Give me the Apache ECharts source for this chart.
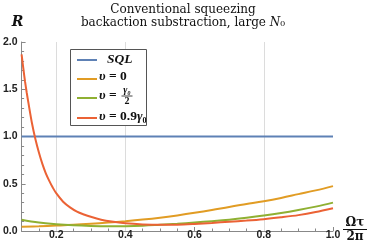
<!DOCTYPE html>
<html>
<head>
<meta charset="utf-8">
<script src="https://cdn.jsdelivr.net/npm/echarts@6/dist/echarts.min.js"></script>
<style>html,body{margin:0;padding:0;background:#fff}#c{width:374px;height:250px}</style>
</head>
<body>
<div id="c"></div>
<script>
// ---- data ----
const xsSmooth = [0.1,0.15,0.2,0.25,0.3,0.35,0.4,0.45,0.5,0.55,0.6,0.65,0.7,0.75,0.8,0.85,0.9,0.95,1.0];
const orangeVals = [0.045,0.05,0.057,0.065,0.076,0.089,0.104,0.121,0.141,0.165,0.192,0.222,0.255,0.285,0.315,0.35,0.39,0.43,0.475];
const greenVals  = [0.12,0.09,0.072,0.06,0.053,0.05,0.051,0.056,0.066,0.077,0.09,0.104,0.12,0.14,0.163,0.19,0.222,0.258,0.30];
const xsRed = [0.1,0.105,0.11,0.115,0.12,0.13,0.14,0.15,0.16,0.17,0.18,0.19,0.2,0.22,0.24,0.26,0.28,0.3,0.33,0.36,0.4,0.45,0.5,0.55,0.6,0.65,0.7,0.75,0.8,0.85,0.9,0.95,1.0];
const redVals = [1.87,1.72,1.58,1.46,1.35,1.14,0.97,0.83,0.71,0.61,0.53,0.46,0.40,0.31,0.25,0.205,0.175,0.15,0.12,0.10,0.082,0.07,0.065,0.067,0.075,0.085,0.098,0.11,0.125,0.145,0.168,0.2,0.24];
const xsSQL = [0.1,1.0];
const sqlVals = [1,1];
const xTickLabels = [0.2,0.4,0.6,0.8,1.0];
const xMinorTicks = [0.15,0.25,0.3,0.35,0.45,0.5,0.55,0.65,0.7,0.75,0.85,0.9,0.95];
const xGridLines = [0.2,0.4,0.8];
const legendNames = ['SQL','υ = 0','υ = γ0/2','υ = 0.9γ0'];
const colors = ['#5E81B5','#E19C24','#8FB032','#EB6235'];

const pair = (xs, ys) => xs.map((x,i)=>[x, ys[i]]);
const axisGray = '#888';
const tickFont = {fontFamily:'Liberation Sans', fontWeight:'bold', fontSize:10.5, color:'#222'};
const serif = 'DejaVu Serif';
const lserif = 'Liberation Serif';
const lfs = 13.5;

const chart = echarts.init(document.getElementById('c'));
const lx0 = 77, lx1 = 97;
const legendLineY = [60, 79, 98, 118];
const uRich = {u:{fontStyle:'italic', fontWeight:'bold', fontFamily:lserif, fontSize:lfs, fill:'#111'}};

chart.setOption({
  animation:false,
  grid:{left:19, right:41, top:42, bottom:19, containLabel:false},
  xAxis:[{
    type:'value', min:0.1, max:1.0,
    axisLine:{show:true, onZero:false, lineStyle:{color:axisGray, width:1}},
    axisTick:{show:true, inside:true, length:4, lineStyle:{color:axisGray}, customValues:xTickLabels},
    axisLabel:Object.assign({margin:-1, customValues:xTickLabels, formatter:v=>v.toFixed(1)}, tickFont),
    splitLine:{show:false}
  },{
    type:'value', min:0.1, max:1.0, position:'bottom',
    axisLine:{show:false},
    axisTick:{show:true, inside:true, length:2.5, lineStyle:{color:axisGray}, customValues:xMinorTicks},
    axisLabel:{show:false},
    splitLine:{show:false}
  }],
  yAxis:{
    type:'value', min:0, max:2, interval:0.5,
    axisLine:{show:true, onZero:false, lineStyle:{color:axisGray, width:1}},
    axisTick:{show:true, inside:true, length:4, lineStyle:{color:axisGray}},
    minorTick:{show:true, splitNumber:5, length:2.5, lineStyle:{color:axisGray}},
    axisLabel:Object.assign({margin:4, formatter:v=>v.toFixed(1)}, tickFont),
    splitLine:{show:false}
  },
  series:[
    {name:legendNames[0], type:'line', data:pair(xsSQL, sqlVals), showSymbol:false, z:3,
     lineStyle:{color:colors[0], width:2}, itemStyle:{color:colors[0]},
     markLine:{silent:true, symbol:'none', z:1, label:{show:false},
       lineStyle:{color:'#dcdcdc', width:1, type:'solid'},
       data:xGridLines.map(v=>({xAxis:v}))}},
    {name:legendNames[1], type:'line', data:pair(xsSmooth, orangeVals), showSymbol:false, smooth:0.4, z:3,
     lineStyle:{color:colors[1], width:2}, itemStyle:{color:colors[1]}},
    {name:legendNames[2], type:'line', data:pair(xsSmooth, greenVals), showSymbol:false, smooth:0.4, z:3,
     lineStyle:{color:colors[2], width:2}, itemStyle:{color:colors[2]}},
    {name:legendNames[3], type:'line', data:pair(xsRed, redVals), showSymbol:false, smooth:0.3, z:3,
     lineStyle:{color:colors[3], width:2}, itemStyle:{color:colors[3]}}
  ],
  graphic:[
    // title
    {type:'text', x:183, y:3, z:10, style:{
      text:'Conventional squeezing\nbackaction substraction, large {i|N}₀',
      fontFamily:serif, fontSize:12, fill:'#111', align:'center', textAlign:'center', lineHeight:13.5,
      rich:{i:{fontStyle:'italic', fontFamily:serif, fontSize:12, fill:'#111'}}
    }},
    // y axis name
    {type:'text', x:17.5, y:22, z:10, style:{text:'R', fontFamily:serif, fontStyle:'italic', fontWeight:'bold', fontSize:14, fill:'#111',
      align:'center', textAlign:'center', verticalAlign:'middle', textVerticalAlign:'middle'}},
    // x axis name (fraction)
    {type:'text', x:355, y:223, z:10, style:{text:'Ωτ', fontFamily:serif, fontWeight:'bold', fontSize:12, fill:'#111',
      align:'center', textAlign:'center', verticalAlign:'middle', textVerticalAlign:'middle'}},
    {type:'line', z:10, shape:{x1:343, y1:229.5, x2:367, y2:229.5}, style:{stroke:'#111', lineWidth:1}},
    {type:'text', x:355, y:237, z:10, style:{text:'2π', fontFamily:serif, fontWeight:'bold', fontSize:12, fill:'#111',
      align:'center', textAlign:'center', verticalAlign:'middle', textVerticalAlign:'middle'}},
    // legend box
    {type:'rect', z:20, shape:{x:70.5, y:49.5, width:76, height:76}, style:{fill:'#fff', stroke:'#555', lineWidth:1}},
    {type:'line', z:21, shape:{x1:lx0, y1:legendLineY[0], x2:lx1, y2:legendLineY[0]}, style:{stroke:colors[0], lineWidth:2}},
    {type:'line', z:21, shape:{x1:lx0, y1:legendLineY[1], x2:lx1, y2:legendLineY[1]}, style:{stroke:colors[1], lineWidth:2}},
    {type:'line', z:21, shape:{x1:lx0, y1:legendLineY[2], x2:lx1, y2:legendLineY[2]}, style:{stroke:colors[2], lineWidth:2}},
    {type:'line', z:21, shape:{x1:lx0, y1:legendLineY[3], x2:lx1, y2:legendLineY[3]}, style:{stroke:colors[3], lineWidth:2}},
    {type:'text', x:107, y:60, z:21, style:{text:'SQL', fontFamily:lserif, fontStyle:'italic', fontWeight:'bold', fontSize:lfs, fill:'#111',
      verticalAlign:'middle', textVerticalAlign:'middle'}},
    {type:'text', x:99, y:77, z:21, style:{text:'{u|υ} = 0', fontFamily:lserif, fontWeight:'bold', fontSize:lfs, fill:'#111',
      verticalAlign:'middle', textVerticalAlign:'middle', rich:uRich}},
    {type:'text', x:99, y:96, z:21, style:{text:'{u|υ} =', fontFamily:lserif, fontWeight:'bold', fontSize:lfs, fill:'#111',
      verticalAlign:'middle', textVerticalAlign:'middle', rich:uRich}},
    {type:'text', x:127, y:90.5, z:21, style:{text:'γ₀', fontFamily:lserif, fontStyle:'italic', fontWeight:'bold', fontSize:10, fill:'#111',
      align:'center', textAlign:'center', verticalAlign:'middle', textVerticalAlign:'middle'}},
    {type:'line', z:21, shape:{x1:121.5, y1:96, x2:132.5, y2:96}, style:{stroke:'#111', lineWidth:0.8}},
    {type:'text', x:127, y:101.5, z:21, style:{text:'2', fontFamily:lserif, fontWeight:'bold', fontSize:10, fill:'#111',
      align:'center', textAlign:'center', verticalAlign:'middle', textVerticalAlign:'middle'}},
    {type:'text', x:99, y:116.5, z:21, style:{text:'{u|υ} = 0.9{u|γ}₀', fontFamily:lserif, fontWeight:'bold', fontSize:lfs, fill:'#111',
      verticalAlign:'middle', textVerticalAlign:'middle', rich:uRich}}
  ]
});
</script>
</body>
</html>
